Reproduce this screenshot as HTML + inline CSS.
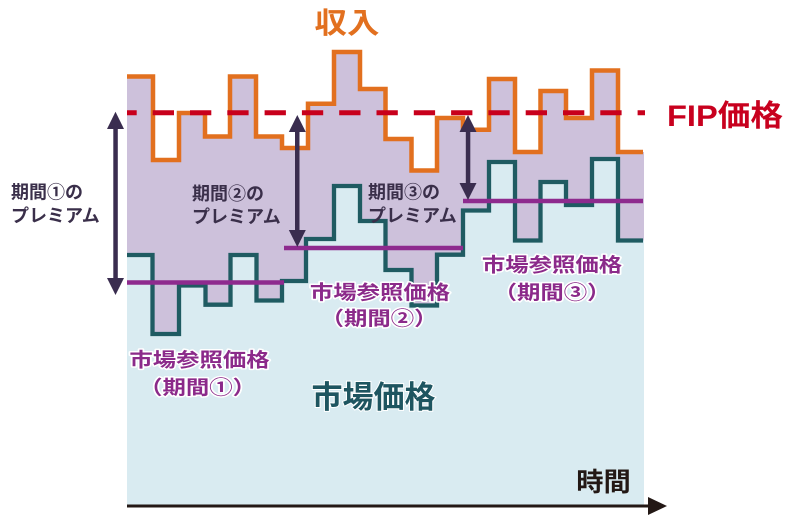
<!DOCTYPE html>
<html><head><meta charset="utf-8"><style>
html,body{margin:0;padding:0;background:#fff;}
svg{display:block;}
text{font-family:"Liberation Sans","Noto Sans CJK JP",sans-serif;font-weight:bold;}
</style></head><body>
<svg width="800" height="520" viewBox="0 0 800 520" xmlns="http://www.w3.org/2000/svg">
<!-- purple fill under income line -->
<path d="M127,76.5 H153 V160 H179 V113 H205 V136.5 H230 V76.5 H256 V136.5 H282 V148 H308 V103.7 H334 V52 H360 V89 H385.5 V139 H411.5 V170.5 H437 V118 H463 V129.7 H489 V79 H515 V152 H540.5 V91 H566 V118 H592 V70.5 H618 V152 H644 V505 H127 Z" fill="#cdc1db"/>
<!-- light blue fill under market price -->
<path d="M127,255 H152.5 V334 H179 V285.5 H205.5 V304.7 H230.5 V255 H256.5 V300.5 H282 V281 H306 V239 H334 V186 H360 V221 H385.5 V270 H411.5 V305.5 H437 V254.7 H463 V210.5 H489 V162 H515 V240.5 H540.5 V182 H566 V205 H592 V159 H618 V240.5 H644 V505 H127 Z" fill="#d9ebf1"/>
<!-- income line -->
<path d="M127,76.5 H153 V160 H179 V113 H205 V136.5 H230 V76.5 H256 V136.5 H282 V148 H308 V103.7 H334 V52 H360 V89 H385.5 V139 H411.5 V170.5 H437 V118 H463 V129.7 H489 V79 H515 V152 H540.5 V91 H566 V118 H592 V70.5 H618 V152 H643" fill="none" stroke="#e2701f" stroke-width="4.5"/>
<!-- market price line -->
<path d="M127,255 H152.5 V334 H179 V285.5 H205.5 V304.7 H230.5 V255 H256.5 V300.5 H282 V281 H306 V239 H334 V186 H360 V221 H385.5 V270 H411.5 V305.5 H437 V254.7 H463 V210.5 H489 V162 H515 V240.5 H540.5 V182 H566 V205 H592 V159 H618 V240.5 H643" fill="none" stroke="#1f5b62" stroke-width="4.3"/>
<!-- reference price lines -->
<path d="M127,282.5 H284" stroke="#8e2a8e" stroke-width="4.5"/>
<path d="M284,248 H463" stroke="#8e2a8e" stroke-width="4.5"/>
<path d="M463,201 H643" stroke="#8e2a8e" stroke-width="4.5"/>
<!-- FIP dashed line -->
<path d="M127,112.8 H645" stroke="#c8001c" stroke-width="5" stroke-dasharray="21.3 16" stroke-dashoffset="11.6"/>
<!-- premium arrows -->
<g fill="#3a2d4f" stroke="none">
  <rect x="113.3" y="126" width="4.5" height="155"/>
  <polygon points="115.5,111.7 107,129 124,129"/>
  <polygon points="115.5,295 107,278 124,278"/>
  <rect x="295" y="129" width="4.5" height="105"/>
  <polygon points="297.3,115 288.8,132 305.8,132"/>
  <polygon points="297.3,247 288.8,230 305.8,230"/>
  <rect x="465.8" y="129" width="4.5" height="57"/>
  <polygon points="468,115 459.5,132 476.5,132"/>
  <polygon points="468,200 459.5,183 476.5,183"/>
</g>
<!-- time axis -->
<path d="M127,506 H652" stroke="#231815" stroke-width="3"/>
<polygon points="648,497 667,506 648,515" fill="#231815"/>

<!-- labels -->
<text x="0" y="0" font-size="29" fill="#e2701f" text-anchor="middle" transform="translate(347,33) scale(1.12,1)">収入</text>
<text x="667" y="126" font-size="30" fill="#c8001e" textLength="116" lengthAdjust="spacingAndGlyphs">FIP価格</text>

<g font-size="18" fill="#3a2f4a" stroke="#ffffff" stroke-width="0" >
  <text x="11" y="198.5">期間①の</text>
  <text x="11" y="222">プレミアム</text>
  <text x="192" y="200">期間②の</text>
  <text x="192" y="223">プレミアム</text>
  <text x="368" y="198.5">期間③の</text>
  <text x="368" y="222">プレミアム</text>
</g>

<g font-size="19.5" fill="#8b2a8a" stroke="#ffffff" stroke-width="3" paint-order="stroke" stroke-linejoin="round" text-anchor="middle">
  <text x="0" y="0" transform="translate(199.5,366.5) scale(1.2,1)">市場参照価格</text>
  <text x="0" y="0" transform="translate(197.5,394) scale(1.2,1)">（期間①）</text>
  <text x="0" y="0" transform="translate(380,299) scale(1.2,1)">市場参照価格</text>
  <text x="0" y="0" transform="translate(379,325) scale(1.2,1)">（期間②）</text>
  <text x="0" y="0" transform="translate(552,271.5) scale(1.2,1)">市場参照価格</text>
  <text x="0" y="0" transform="translate(552,299) scale(1.2,1)">（期間③）</text>
</g>

<text x="373.5" y="408" font-size="31" fill="#1e5560" text-anchor="middle" stroke="#ffffff" stroke-width="2" paint-order="stroke">市場価格</text>
<text x="0" y="0" font-size="26" fill="#231815" text-anchor="middle" transform="translate(603.5,491) scale(1.05,1)">時間</text>
</svg>
</body></html>
